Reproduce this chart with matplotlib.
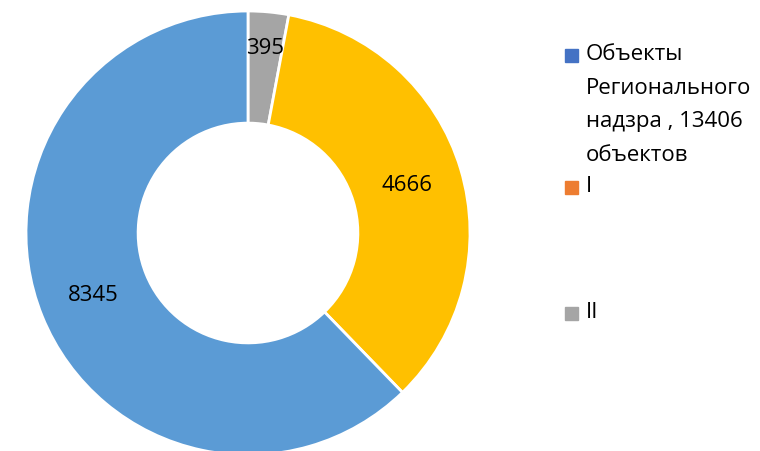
import matplotlib
matplotlib.use('Agg')
import matplotlib.pyplot as plt
import numpy as np
from matplotlib.patches import Rectangle

# slice data (clockwise from top)
values = [395, 4666, 8345]
slice_colors = ['#A5A5A5', '#FFC000', '#5B9BD5']
label_dist = [0.835, 0.75, 0.75]

# legend entries (as in the original, colours don't match the slices)
legend_labels = [['Объекты', 'Регионального', 'надзра , 13406', 'объектов'], ['I'], ['II']]
legend_colors = ['#4472C4', '#ED7D31', '#A5A5A5']
legend_y = [55, 187, 313]  # pixel rows of each entry's first line
line_step = 33.5

plt.rcParams['font.family'] = ['Open Sans', 'DejaVu Sans']

W, H = 760, 451
fig = plt.figure(figsize=(W / 100, H / 100), dpi=100)
cx, cy, R = 248, 233, 222
ax = fig.add_axes([(cx - R) / W, (H - cy - R) / H, 2 * R / W, 2 * R / H])

wedges, _ = ax.pie(values, colors=slice_colors, startangle=90, counterclock=False,
                   radius=1.0, wedgeprops=dict(width=0.505, edgecolor='white', linewidth=2))
ax.set_xlim(-1.0, 1.0)
ax.set_ylim(-1.0, 1.0)
ax.set_aspect('equal')
ax.axis('off')

for w, v, d in zip(wedges, values, label_dist):
    ang = np.deg2rad((w.theta1 + w.theta2) / 2)
    ax.text(d * np.cos(ang), d * np.sin(ang), str(v), ha='center', va='center',
            fontsize=16, color='black')

# manual legend
for lines, col, y in zip(legend_labels, legend_colors, legend_y):
    fig.patches.append(Rectangle((565 / W, (H - y - 6.5) / H), 13 / W, 13 / H,
                                 transform=fig.transFigure, color=col))
    for i, line in enumerate(lines):
        fig.text(586 / W, (H - y - i * line_step) / H, line, ha='left', va='center',
                 fontsize=16, transform=fig.transFigure)

fig.savefig('out.png', dpi=100)
